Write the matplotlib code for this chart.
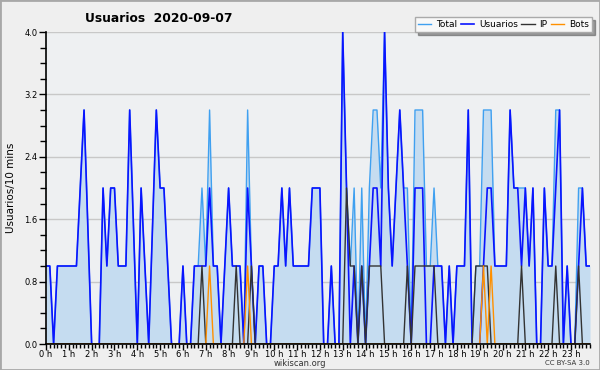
# -*- coding: utf-8 -*-
# plot.py - Usuarios 2020-09-07 (wikiscan style)

import numpy as np
import matplotlib
matplotlib.use('Agg')
import matplotlib.pyplot as plt
from matplotlib.patches import Rectangle
from matplotlib.ticker import MultipleLocator, FuncFormatter

# Values every 10 minutes, 00:00 to 23:50
usuarios = [1, 1, 0, 1, 1, 1, 1, 1, 1, 2, 3, 1.5, 0, 0, 0, 2, 1, 2, 2, 1, 1, 1, 3, 1.5,
            0, 2, 1, 0, 1.5, 3, 2, 2, 1, 0, 0, 0, 1, 0, 0, 1, 1, 1, 1, 2, 1, 1, 0, 1,
            2, 1, 1, 1, 0, 2, 1, 0, 1, 1, 0, 0, 1, 1, 2, 1, 2, 1, 1, 1, 1, 1, 2, 2,
            2, 0, 0, 1, 0, 0, 4, 2, 0, 1, 0, 1, 0, 1, 2, 2, 1, 4, 2, 1, 2, 3, 2, 1,
            0, 2, 2, 2, 0, 0, 1, 1, 1, 0, 1, 0, 1, 1, 1, 3, 0, 0, 0, 1, 2, 2, 1, 1,
            1, 1, 3, 2, 2, 1, 2, 1, 2, 0, 0, 2, 1, 1, 2, 3, 0, 1, 0, 0, 1, 2, 1, 1]
total = [1, 1, 0, 1, 1, 1, 1, 1, 1, 2, 3, 1.5, 0, 0, 0, 2, 1, 2, 2, 1, 1, 1, 3, 1.5,
         0, 2, 1, 0, 1.5, 3, 2, 2, 1, 0, 0, 0, 1, 0, 0, 1, 1, 2, 1, 3, 1, 1, 0, 1,
         2, 1, 1, 1, 0, 3, 1, 0, 1, 1, 0, 0, 1, 1, 2, 1, 2, 1, 1, 1, 1, 1, 2, 2,
         2, 0, 0, 1, 0, 0, 4, 2, 1, 2, 0, 2, 0, 2, 3, 3, 2, 4, 2, 1, 2, 3, 2, 2,
         0, 3, 3, 3, 1, 1, 2, 1, 1, 0, 1, 0, 1, 1, 1, 3, 0, 1, 1, 3, 3, 3, 1, 1,
         1, 1, 3, 2, 2, 2, 2, 1, 2, 0, 0, 2, 1, 1, 3, 3, 0, 1, 0, 0, 2, 2, 1, 1]
ip = [0, 0, 0, 0, 0, 0, 0, 0, 0, 0, 0, 0, 0, 0, 0, 0, 0, 0, 0, 0, 0, 0, 0, 0,
      0, 0, 0, 0, 0, 0, 0, 0, 0, 0, 0, 0, 0, 0, 0, 0, 0, 1, 0, 0, 0, 0, 0, 0,
      0, 0, 1, 0, 0, 0, 1, 0, 0, 0, 0, 0, 0, 0, 0, 0, 0, 0, 0, 0, 0, 0, 0, 0,
      0, 0, 0, 0, 0, 0, 0, 2, 1, 1, 0, 1, 0, 1, 1, 1, 1, 0, 0, 0, 0, 0, 0, 1,
      0, 1, 1, 1, 1, 1, 1, 0, 0, 0, 0, 0, 0, 0, 0, 0, 0, 1, 1, 1, 1, 0, 0, 0,
      0, 0, 0, 0, 0, 1, 0, 0, 0, 0, 0, 0, 0, 0, 1, 0, 0, 0, 0, 0, 1, 0, 0, 0]
bots = [0, 0, 0, 0, 0, 0, 0, 0, 0, 0, 0, 0, 0, 0, 0, 0, 0, 0, 0, 0, 0, 0, 0, 0,
        0, 0, 0, 0, 0, 0, 0, 0, 0, 0, 0, 0, 0, 0, 0, 0, 0, 0, 0, 1, 0, 0, 0, 0,
        0, 0, 0, 0, 0, 1, 0, 0, 0, 0, 0, 0, 0, 0, 0, 0, 0, 0, 0, 0, 0, 0, 0, 0,
        0, 0, 0, 0, 0, 0, 0, 0, 0, 0, 0, 0, 0, 0, 0, 0, 0, 0, 0, 0, 0, 0, 0, 0,
        0, 0, 0, 0, 0, 0, 0, 0, 0, 0, 0, 0, 0, 0, 0, 0, 0, 0, 0, 1, 0, 1, 0, 0,
        0, 0, 0, 0, 0, 0, 0, 0, 0, 0, 0, 0, 0, 0, 0, 0, 0, 0, 0, 0, 0, 0, 0, 0]
hour_labels = ['%d h' % h for h in range(24)]
y_ticks = [0.0, 0.8, 1.6, 2.4, 3.2, 4.0]

x = np.arange(len(usuarios))

fig = plt.figure(figsize=(6, 3.7), dpi=100, facecolor='#efefef')
ax = fig.add_axes([46 / 600, 26 / 370, 544 / 600, 312 / 370])
ax.set_facecolor('#eef0f2')

# Series
ax.fill_between(x, total, 0, color='#c5dcf0', lw=0, zorder=1)
ax.plot(x, total, color='#3fa0f0', lw=1.0, zorder=2, label='Total')
ax.plot(x, usuarios, color='#0a14ff', lw=1.2, zorder=3, label='Usuarios')
ax.plot(x, ip, color='#333333', lw=1.0, zorder=4, label='IP')
ax.plot(x, bots, color='#ff9000', lw=1.0, zorder=5, label='Bots')

# Axes
ax.set_xlim(0, len(usuarios) - 1)
ax.set_ylim(0, 4.0)
ax.set_yticks(y_ticks)
ax.yaxis.set_major_formatter(FuncFormatter(lambda v, p: '%.1f' % v))
ax.yaxis.set_minor_locator(MultipleLocator(0.2))
ax.set_xticks(np.arange(0, 144, 6))
ax.set_xticklabels(hour_labels)
ax.xaxis.set_minor_locator(MultipleLocator(1))
ax.tick_params(axis='both', which='both', direction='out', color='black', width=1)
ax.tick_params(axis='x', which='major', length=4, pad=0.5, labelsize=6)
ax.tick_params(axis='x', which='minor', length=3)
ax.tick_params(axis='y', which='major', length=5, pad=1, labelsize=6)
ax.tick_params(axis='y', which='minor', length=4)
ax.grid(axis='y', color='#c8c8c8', lw=1)
ax.set_axisbelow(True)
for s in ['top', 'right']:
    ax.spines[s].set_visible(False)
for s in ['left', 'bottom']:
    ax.spines[s].set_linewidth(1.2)
    ax.spines[s].set_zorder(10)

ax.set_ylabel('Usuarios/10 mins', fontsize=7.5, labelpad=6)

# Title and footer
fig.text(85 / 600, 1 - 18 / 370, 'Usuarios  2020-09-07', fontsize=8.8,
         fontweight='bold', ha='left', va='center')
fig.text(300 / 600, 1 - 363 / 370, 'wikiscan.org', fontsize=6,
         ha='center', va='center', color='#333333')
fig.text(590 / 600, 1 - 363 / 370, 'CC BY-SA 3.0', fontsize=5,
         ha='right', va='center', color='#333333')

# Legend
leg = fig.legend(loc='upper right', bbox_to_anchor=(592 / 600, 1 - 17 / 370),
                 ncol=4, fontsize=6.5, frameon=True, fancybox=False, shadow=True,
                 handlelength=1.5, handletextpad=0.5, columnspacing=0.4,
                 borderpad=0.35, borderaxespad=0)
leg.get_frame().set_edgecolor('#aaaaaa')
leg.get_frame().set_facecolor('#f8f8f8')
leg.get_frame().set_linewidth(1)

# Figure border
fig.patches.append(Rectangle((0, 0), 1, 1, transform=fig.transFigure,
                             fill=False, edgecolor='#a8a8a8', lw=2))

fig.savefig('out.png', dpi=100, facecolor=fig.get_facecolor())
